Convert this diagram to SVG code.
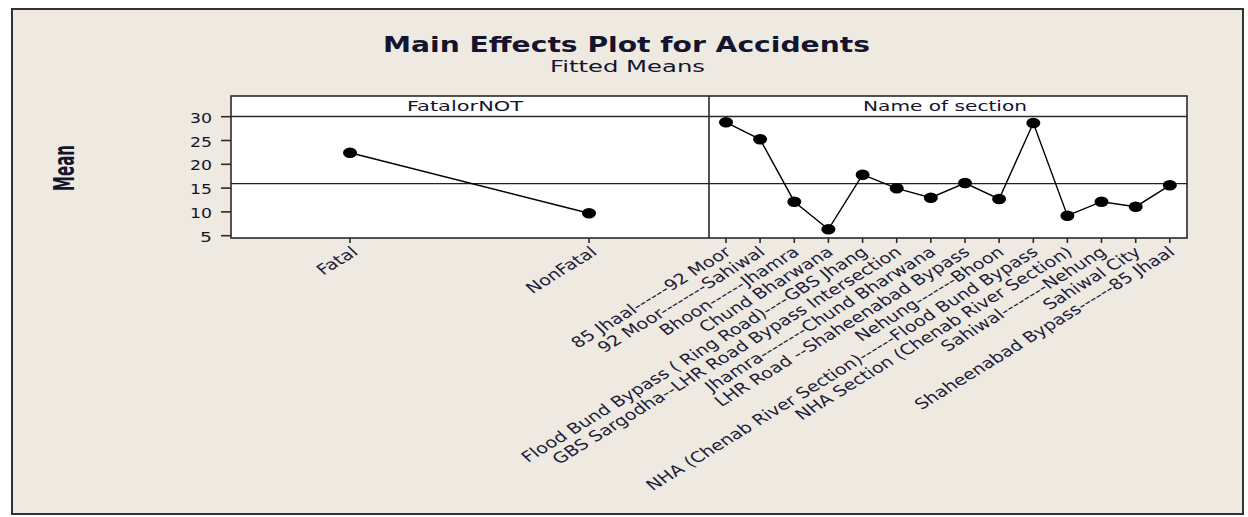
<svg xmlns="http://www.w3.org/2000/svg" width="1248" height="517" viewBox="0 0 1248 517">
<style>
.t{font-family:"DejaVu Sans","Verdana",sans-serif;fill:#14142e}
.lab{font-family:"DejaVu Sans","Verdana",sans-serif;font-size:14.8px;fill:#1c1c3a;text-anchor:end}
.ax{stroke:#2a2a2a;stroke-width:1.6;fill:none}
.tk{stroke:#2a2a2a;stroke-width:1.6}
.dl{stroke:#000;stroke-width:1.4;fill:none}
.pt{fill:#000}
</style>
<defs>
<ellipse id="dot" cx="0" cy="0" rx="7" ry="5.2"/>
</defs>
<rect x="0" y="0" width="1248" height="517" fill="#ffffff"/>
<rect x="12" y="9" width="1231" height="505" fill="#EEEAE1" stroke="#333" stroke-width="2"/>

<g id="title">
<text class="t" x="383" y="52" font-size="21" font-weight="bold" textLength="487" lengthAdjust="spacingAndGlyphs" fill="#000">Main Effects Plot for Accidents</text>
<text class="t" x="550" y="72" font-size="16.5" textLength="155" lengthAdjust="spacingAndGlyphs">Fitted Means</text>
</g>

<g id="ylabel">
<text class="t" transform="translate(74,168) scale(1.9,1) rotate(-90)" font-size="15" font-weight="bold" text-anchor="middle" fill="#000">Mean</text>
</g>

<g id="panels">
<rect x="231" y="96" width="956" height="142" fill="#ffffff"/>
<line class="ax" x1="231" y1="116.5" x2="1187" y2="116.5"/>
<line class="ax" x1="709" y1="96" x2="709" y2="238"/>
<line x1="231" y1="183.7" x2="1187" y2="183.7" stroke="#222" stroke-width="1.2"/>
<rect class="ax" x="231" y="96" width="956" height="142"/>
<text class="t" x="407" y="111" font-size="14" textLength="116" lengthAdjust="spacingAndGlyphs">FatalorNOT</text>
<text class="t" x="863" y="111" font-size="14" textLength="164" lengthAdjust="spacingAndGlyphs">Name of section</text>
</g>

<g id="yaxis">
<line class="tk" x1="221" y1="116.7" x2="231" y2="116.7"/>
<line class="tk" x1="221" y1="140.5" x2="231" y2="140.5"/>
<line class="tk" x1="221" y1="164.3" x2="231" y2="164.3"/>
<line class="tk" x1="221" y1="188.1" x2="231" y2="188.1"/>
<line class="tk" x1="221" y1="211.9" x2="231" y2="211.9"/>
<line class="tk" x1="221" y1="235.7" x2="231" y2="235.7"/>
<text class="t" x="190" y="122.7" font-size="14.5" textLength="22" lengthAdjust="spacingAndGlyphs">30</text>
<text class="t" x="190" y="146.5" font-size="14.5" textLength="22" lengthAdjust="spacingAndGlyphs">25</text>
<text class="t" x="190" y="170.3" font-size="14.5" textLength="22" lengthAdjust="spacingAndGlyphs">20</text>
<text class="t" x="190" y="194.1" font-size="14.5" textLength="22" lengthAdjust="spacingAndGlyphs">15</text>
<text class="t" x="190" y="217.9" font-size="14.5" textLength="22" lengthAdjust="spacingAndGlyphs">10</text>
<text class="t" x="200" y="241.7" font-size="14.5" textLength="12" lengthAdjust="spacingAndGlyphs">5</text>
</g>

<g id="xticks">
<line class="tk" x1="350" y1="238" x2="350" y2="243"/>
<line class="tk" x1="589" y1="238" x2="589" y2="243"/>
<line class="tk" x1="726" y1="238" x2="726" y2="243"/>
<line class="tk" x1="760.1" y1="238" x2="760.1" y2="243"/>
<line class="tk" x1="794.3" y1="238" x2="794.3" y2="243"/>
<line class="tk" x1="828.4" y1="238" x2="828.4" y2="243"/>
<line class="tk" x1="862.6" y1="238" x2="862.6" y2="243"/>
<line class="tk" x1="896.7" y1="238" x2="896.7" y2="243"/>
<line class="tk" x1="930.8" y1="238" x2="930.8" y2="243"/>
<line class="tk" x1="965" y1="238" x2="965" y2="243"/>
<line class="tk" x1="999.1" y1="238" x2="999.1" y2="243"/>
<line class="tk" x1="1033.3" y1="238" x2="1033.3" y2="243"/>
<line class="tk" x1="1067.4" y1="238" x2="1067.4" y2="243"/>
<line class="tk" x1="1101.5" y1="238" x2="1101.5" y2="243"/>
<line class="tk" x1="1135.7" y1="238" x2="1135.7" y2="243"/>
<line class="tk" x1="1169.8" y1="238" x2="1169.8" y2="243"/>
</g>

<g id="connectors">
<polyline class="dl" points="350,152.7 589,213.3"/>
<polyline class="dl" points="726,122.3 760.1,139.3 794.3,201.7 828.4,229.3 862.6,174.7 896.7,188.3 930.8,197.7 965,183 999.1,199 1033.3,123 1067.4,215.7 1101.5,201.7 1135.7,206.7 1169.8,185.3"/>
</g>

<g id="points">
<use href="#dot" class="pt" x="350" y="152.7"/>
<use href="#dot" class="pt" x="589" y="213.3"/>
<use href="#dot" class="pt" x="726" y="122.3"/>
<use href="#dot" class="pt" x="760.1" y="139.3"/>
<use href="#dot" class="pt" x="794.3" y="201.7"/>
<use href="#dot" class="pt" x="828.4" y="229.3"/>
<use href="#dot" class="pt" x="862.6" y="174.7"/>
<use href="#dot" class="pt" x="896.7" y="188.3"/>
<use href="#dot" class="pt" x="930.8" y="197.7"/>
<use href="#dot" class="pt" x="965" y="183"/>
<use href="#dot" class="pt" x="999.1" y="199"/>
<use href="#dot" class="pt" x="1033.3" y="123"/>
<use href="#dot" class="pt" x="1067.4" y="215.7"/>
<use href="#dot" class="pt" x="1101.5" y="201.7"/>
<use href="#dot" class="pt" x="1135.7" y="206.7"/>
<use href="#dot" class="pt" x="1169.8" y="185.3"/>
</g>

<g id="xlabels">
<text class="lab" transform="translate(350,245) matrix(1.016,-0.624,0.811,0.7815,0,0)" dy="0.76em">Fatal</text>
<text class="lab" transform="translate(589,245) matrix(1.016,-0.624,0.811,0.7815,0,0)" dy="0.76em">NonFatal</text>
<text class="lab" transform="translate(723,245) matrix(1.016,-0.624,0.811,0.7815,0,0)" dy="0.76em">85 Jhaal------92 Moor</text>
<text class="lab" transform="translate(757.1,245) matrix(1.016,-0.624,0.811,0.7815,0,0)" dy="0.76em">92 Moor--------Sahiwal</text>
<text class="lab" transform="translate(791.3,245) matrix(1.016,-0.624,0.811,0.7815,0,0)" dy="0.76em">Bhoon------Jhamra</text>
<text class="lab" transform="translate(825.4,245) matrix(1.016,-0.624,0.811,0.7815,0,0)" dy="0.76em">Chund Bharwana</text>
<text class="lab" transform="translate(859.6,245) matrix(1.016,-0.624,0.811,0.7815,0,0)" dy="0.76em">Flood Bund Bypass ( Ring Road)----GBS Jhang</text>
<text class="lab" transform="translate(893.7,245) matrix(1.016,-0.624,0.811,0.7815,0,0)" dy="0.76em">GBS Sargodha--LHR Road Bypass Intersection</text>
<text class="lab" transform="translate(927.8,245) matrix(1.016,-0.624,0.811,0.7815,0,0)" dy="0.76em">Jhamra--------Chund Bharwana</text>
<text class="lab" transform="translate(962,245) matrix(1.016,-0.624,0.811,0.7815,0,0)" dy="0.76em">LHR Road --Shaheenabad Bypass</text>
<text class="lab" transform="translate(996.1,245) matrix(1.016,-0.624,0.811,0.7815,0,0)" dy="0.76em">Nehung-------Bhoon</text>
<text class="lab" transform="translate(1030.3,245) matrix(1.016,-0.624,0.811,0.7815,0,0)" dy="0.76em">NHA (Chenab River Section)------Flood Bund Bypass</text>
<text class="lab" transform="translate(1064.4,245) matrix(1.016,-0.624,0.811,0.7815,0,0)" dy="0.76em">NHA Section (Chenab River Section)</text>
<text class="lab" transform="translate(1098.5,245) matrix(1.016,-0.624,0.811,0.7815,0,0)" dy="0.76em">Sahiwal--------Nehung</text>
<text class="lab" transform="translate(1132.7,245) matrix(1.016,-0.624,0.811,0.7815,0,0)" dy="0.76em">Sahiwal City</text>
<text class="lab" transform="translate(1166.8,245) matrix(1.016,-0.624,0.811,0.7815,0,0)" dy="0.76em">Shaheenabad Bypass------85 Jhaal</text>
</g>
</svg>
